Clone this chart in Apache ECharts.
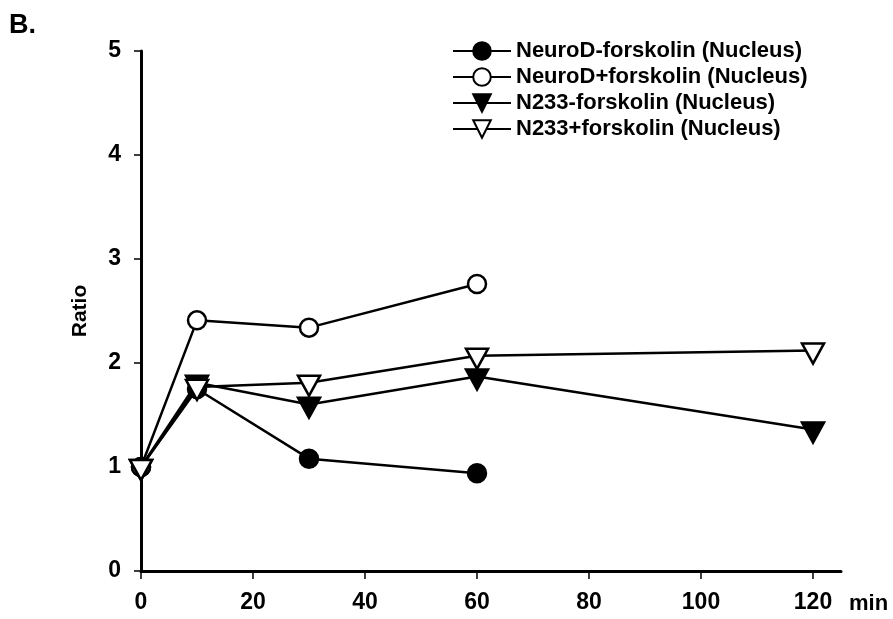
<!DOCTYPE html>
<html>
<head>
<meta charset="utf-8">
<script src="https://cdn.jsdelivr.net/npm/echarts@6/dist/echarts.min.js"></script>
<style>
html,body{margin:0;padding:0;background:#fff;}
#chart{width:893px;height:619px;}
</style>
</head>
<body>
<div id="chart"></div>
<script>
// ---- data ----
const timesNeuroD = [0, 10, 30, 60];
const timesN233 = [0, 10, 30, 60, 120];
const neuroDMinus = [1.0, 1.75, 1.08, 0.94];
const neuroDPlus = [1.0, 2.41, 2.34, 2.76];
const n233Minus = [1.0, 1.81, 1.60, 1.87, 1.36];
const n233Plus = [1.0, 1.77, 1.81, 2.07, 2.12];
const seriesNames = [
  'NeuroD-forskolin (Nucleus)',
  'NeuroD+forskolin (Nucleus)',
  'N233-forskolin (Nucleus)',
  'N233+forskolin (Nucleus)'
];
const xTicks = [0, 20, 40, 60, 80, 100, 120];
const yTicks = [0, 1, 2, 3, 4, 5];

const pair = (xs, ys) => xs.map((x, i) => [x, ys[i]]);
const FONT = '"Liberation Sans", Arial, sans-serif';

function mkSeries(name, xs, ys, symbol, filled, rotate, size, offset) {
  return {
    name: name,
    type: 'line',
    data: pair(xs, ys),
    symbol: symbol,
    symbolSize: size,
    symbolRotate: rotate,
    symbolOffset: offset,
    showAllSymbol: true,
    color: '#000',
    lineStyle: { color: '#000', width: 2.5 },
    itemStyle: { color: filled ? '#000' : '#fff', borderColor: '#000', borderWidth: 2.5, opacity: 1 },
    emphasis: { disabled: true },
    animation: false
  };
}

const chart = echarts.init(document.getElementById('chart'), null, { renderer: 'canvas' });
chart.setOption({
  backgroundColor: '#fff',
  animation: false,
  title: {
    text: 'B.', left: 4, top: 7,
    textStyle: { fontFamily: FONT, fontSize: 27, fontWeight: 'bold', color: '#000' }
  },
  legend: {
    orient: 'vertical',
    left: 447, top: 33,
    itemWidth: 58, itemHeight: 22, itemGap: 0,
    data: seriesNames,
    textStyle: { fontFamily: FONT, fontSize: 22, fontWeight: 'bold', color: '#000', lineHeight: 26 },
    selectedMode: false
  },
  grid: { left: 141, right: 52, top: 51, bottom: 48, containLabel: false },
  xAxis: {
    type: 'value', min: 0, max: 125, interval: 20,
    name: 'min', nameLocation: 'end', nameGap: 8,
    nameTextStyle: { fontFamily: FONT, fontSize: 22, fontWeight: 'bold', color: '#000', verticalAlign: 'top', padding: [22, 0, 0, 0] },
    axisLine: { show: true, lineStyle: { color: '#000', width: 3 } },
    axisTick: { show: true, length: 8, lineStyle: { color: '#000', width: 1.5 }, customValues: xTicks },
    axisLabel: { fontFamily: FONT, fontSize: 23, fontWeight: 'bold', color: '#000', margin: 20, customValues: xTicks },
    splitLine: { show: false }
  },
  yAxis: {
    type: 'value', min: 0, max: 5, interval: 1,
    name: 'Ratio', nameLocation: 'middle', nameGap: 50, nameRotate: 90,
    nameTextStyle: { fontFamily: FONT, fontSize: 21, fontWeight: 'bold', color: '#000' },
    axisLine: { show: true, lineStyle: { color: '#000', width: 3 } },
    axisTick: { show: true, length: 7, lineStyle: { color: '#000', width: 1.5 }, customValues: yTicks },
    axisLabel: { fontFamily: FONT, fontSize: 23, fontWeight: 'bold', color: '#000', margin: 20, customValues: yTicks },
    splitLine: { show: false }
  },
  series: [
    mkSeries(seriesNames[0], timesNeuroD, neuroDMinus, 'circle', true, 0, 18, [0, 0]),
    mkSeries(seriesNames[1], timesNeuroD, neuroDPlus, 'circle', false, 0, 18, [0, 0]),
    mkSeries(seriesNames[2], timesN233, n233Minus, 'triangle', true, 180, [22, 20], [0, 3]),
    mkSeries(seriesNames[3], timesN233, n233Plus, 'triangle', false, 180, [22, 20], [0, 3])
  ]
});
</script>
</body>
</html>
